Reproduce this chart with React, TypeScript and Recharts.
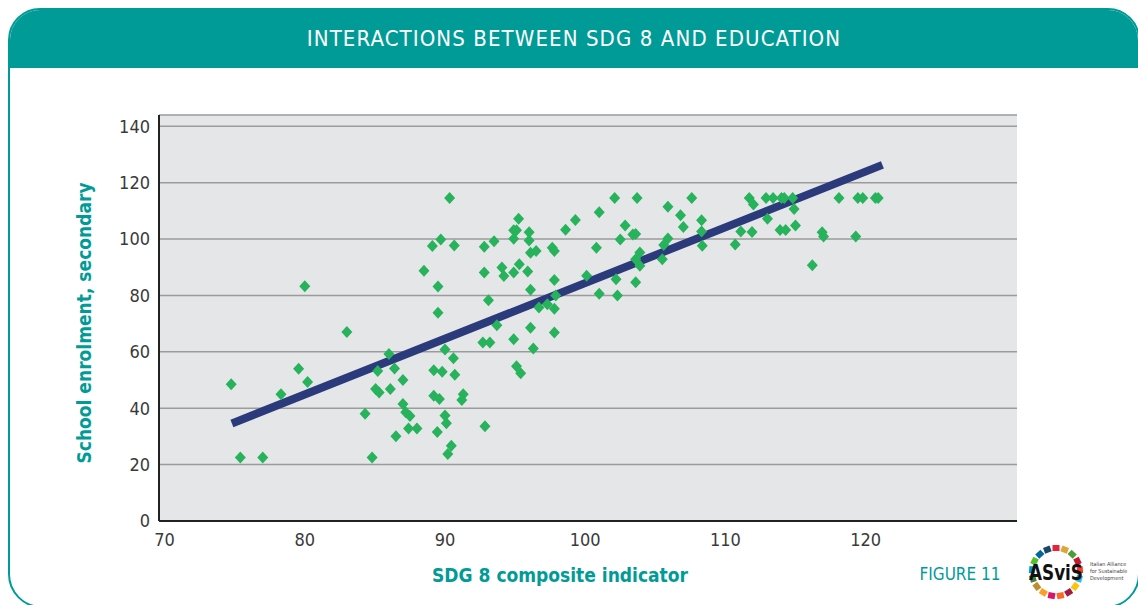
import { ScatterChart, Scatter, XAxis, YAxis, CartesianGrid, ReferenceLine } from "recharts"

// SDG 8 composite indicator (x) and secondary school enrolment (y)
const sdg8 = [
  74.75, 75.4, 77.0, 78.3, 79.56, 80.2, 80.0, 83.0,
  90.33, 95.25, 94.9, 95.1, 96.0, 94.9, 96.0, 89.1, 89.7, 90.66, 92.8, 93.5,
  88.5, 89.5, 92.8, 94.06, 94.2, 94.9, 95.3, 95.9, 93.1, 89.5, 93.7, 96.1,
  92.7, 93.2, 94.9, 96.3, 90.0, 90.6, 86.0, 85.2, 86.4, 89.2, 89.8, 90.7,
  95.1, 95.4, 85.05, 85.3, 86.1, 87.0, 89.2, 89.6, 91.3, 91.2, 87.0, 87.2,
  87.5, 84.3, 90.0, 90.1, 92.85, 87.4, 88.0, 89.45, 86.5, 90.45, 90.2, 84.8,
  102.1, 103.7, 107.6, 105.9, 106.8, 108.3, 107.0, 101.0, 99.3, 98.6, 102.85, 103.4,
  103.6, 102.5, 105.9, 108.3, 108.35, 105.6, 100.8, 103.9, 103.6, 103.9, 105.5, 96.1,
  96.5, 97.65, 97.8, 100.1, 97.8, 102.2, 103.6, 96.1, 97.9, 101.0, 102.3, 96.7,
  97.3, 97.8, 97.8,
  111.7, 112.0, 112.9, 113.4, 114.0, 114.2, 114.8, 114.9, 113.0, 111.1, 111.9, 113.9,
  114.3, 115.0, 110.7, 116.9, 117.0, 118.1, 119.45, 119.8, 120.7, 120.9, 119.3, 116.2,
]
const enrolment = [
  48.5, 22.5, 22.5, 45.0, 54.0, 49.3, 83.3, 67.0,
  114.6, 107.2, 103.1, 103.1, 102.4, 100.1, 99.5, 97.5, 99.8, 97.7, 97.3, 99.2,
  88.8, 83.2, 88.1, 89.9, 86.9, 88.1, 91.1, 88.5, 78.3, 73.9, 69.4, 68.5,
  63.3, 63.3, 64.5, 61.2, 60.8, 57.7, 59.2, 53.2, 54.1, 53.5, 52.9, 51.9,
  54.9, 52.4, 46.8, 45.6, 46.8, 50.0, 44.4, 43.3, 45.0, 42.9, 41.5, 38.6,
  37.2, 38.0, 37.4, 34.7, 33.6, 32.8, 32.8, 31.6, 30.1, 26.7, 23.8, 22.5,
  114.6, 114.6, 114.6, 111.5, 108.4, 106.7, 104.3, 109.5, 106.8, 103.3, 104.8, 101.6,
  101.8, 99.8, 100.2, 102.7, 97.6, 97.9, 96.9, 95.2, 92.8, 90.5, 92.8, 95.1,
  95.8, 96.9, 95.8, 87.0, 85.5, 85.7, 84.7, 82.0, 80.0, 80.6, 80.0, 75.7,
  76.9, 75.3, 66.9,
  114.6, 112.3, 114.6, 114.6, 114.6, 114.6, 114.6, 110.7, 107.2, 102.7, 102.5, 103.2,
  103.2, 104.8, 98.1, 102.4, 100.9, 114.6, 114.6, 114.6, 114.6, 114.6, 100.9, 90.7,
]
// trend line end points
const trendX = [74.8, 121.2]
const trendY = [34.6, 126.3]

const xTicks = [70, 80, 90, 100, 110, 120]
const yTicks = [0, 20, 40, 60, 80, 100, 120, 140]

const teal = "#009b97"
const font = "'DejaVu Sans Condensed', 'DejaVu Sans', sans-serif"

const points = sdg8.map((x, i) => ({ x, y: enrolment[i] }))

const Diamond = (props: any) => {
  const { cx, cy } = props
  if (cx == null || cy == null) return null
  return <path d={`M${cx},${cy - 6} L${cx + 5.5},${cy} L${cx},${cy + 6} L${cx - 5.5},${cy} Z`} fill="#27b25c" />
}

const sdgColors = [
  "#E5243B", "#DDA63A", "#4C9F38", "#C5192D", "#FF3A21", "#26BDE2", "#FCC30B", "#A21942", "#FD6925",
  "#DD1367", "#FD9D24", "#BF8B2E", "#3F7E44", "#0A97D9", "#56C02B", "#00689D", "#19486A",
]

const Logo = () => (
  <svg width={116} height={62} style={{ position: "absolute", left: 1022, top: 541 }}>
    {sdgColors.map((c, i) => {
      const a = (i / sdgColors.length) * Math.PI * 2 - Math.PI / 2
      const r = 24
      const px = 34 + r * Math.cos(a)
      const py = 31 + r * Math.sin(a)
      return (
        <rect key={i} x={px - 3.5} y={py - 3} width={7} height={6} fill={c}
          transform={`rotate(${(a * 180) / Math.PI + 90} ${px} ${py})`} />
      )
    })}
    <text x={34} y={39} textAnchor="middle" fontFamily={font} fontWeight="bold" fontSize={22} textLength={54} lengthAdjust="spacingAndGlyphs" fill="#111">ASviS</text>
    <text x={68} y={25} fontFamily={font} fontSize={5.5} fill="#444">Italian Alliance</text>
    <text x={68} y={32} fontFamily={font} fontSize={5.5} fill="#444">for Sustainable</text>
    <text x={68} y={39} fontFamily={font} fontSize={5.5} fill="#444">Development</text>
  </svg>
)

export default function App() {
  return (
    <div style={{ position: "absolute", left: 0, top: 0, width: 1138, height: 605, background: "#fff", overflow: "hidden", fontFamily: font }}>
      <div style={{ position: "absolute", left: 8, top: 8, width: 1132, height: 600, border: `2px solid ${teal}`, borderRadius: "32px 32px 34px 34px", boxSizing: "border-box", overflow: "hidden" }}>
        <div style={{ height: 58, background: teal, color: "#fff", fontSize: 22, textAlign: "center", lineHeight: "58px", letterSpacing: 1.1 }}>
          INTERACTIONS BETWEEN SDG 8 AND EDUCATION
        </div>
      </div>
      <div style={{ position: "absolute", left: 0, top: 0 }}>
        <ScatterChart width={1138} height={605} margin={{ top: 115, right: 121, bottom: 44, left: 99 }}>
          <CartesianGrid vertical={false} fill="#e5e6e8" stroke="#9b9b9b" strokeWidth={1.5} />
          <XAxis
            type="number"
            dataKey="x"
            domain={[69.6, 130.8]}
            ticks={xTicks}
            height={40}
            tickLine={false}
            tickSize={0}
            tickMargin={12}
            axisLine={{ stroke: "#222", strokeWidth: 2 }}
            tick={{ fontSize: 18, fill: "#3a3a3a", fontFamily: font }}
          />
          <YAxis
            type="number"
            dataKey="y"
            domain={[0, 144]}
            ticks={yTicks}
            width={60}
            tickLine={false}
            tickSize={0}
            tickMargin={9}
            axisLine={{ stroke: "#222", strokeWidth: 2 }}
            tick={{ fontSize: 18, fill: "#3a3a3a", fontFamily: font }}
          />
          <Scatter data={points} shape={Diamond} isAnimationActive={false} />
          <ReferenceLine
            segment={[{ x: trendX[0], y: trendY[0] }, { x: trendX[1], y: trendY[1] }]}
            stroke="#2b3a7b"
            strokeWidth={8}
            ifOverflow="visible"
          />
        </ScatterChart>
      </div>
      <div style={{ position: "absolute", left: 84, top: 323, transform: "translate(-50%, -50%) rotate(-90deg)", whiteSpace: "nowrap", color: teal, fontWeight: "bold", fontSize: 19 }}>
        School enrolment, secondary
      </div>
      <div style={{ position: "absolute", left: 560, top: 575, transform: "translate(-50%, -50%)", whiteSpace: "nowrap", color: teal, fontWeight: "bold", fontSize: 19 }}>
        SDG 8 composite indicator
      </div>
      <div style={{ position: "absolute", left: 960, top: 574, transform: "translate(-50%, -50%)", whiteSpace: "nowrap", color: teal, fontSize: 17 }}>
        FIGURE 11
      </div>
      <Logo />
    </div>
  )
}
